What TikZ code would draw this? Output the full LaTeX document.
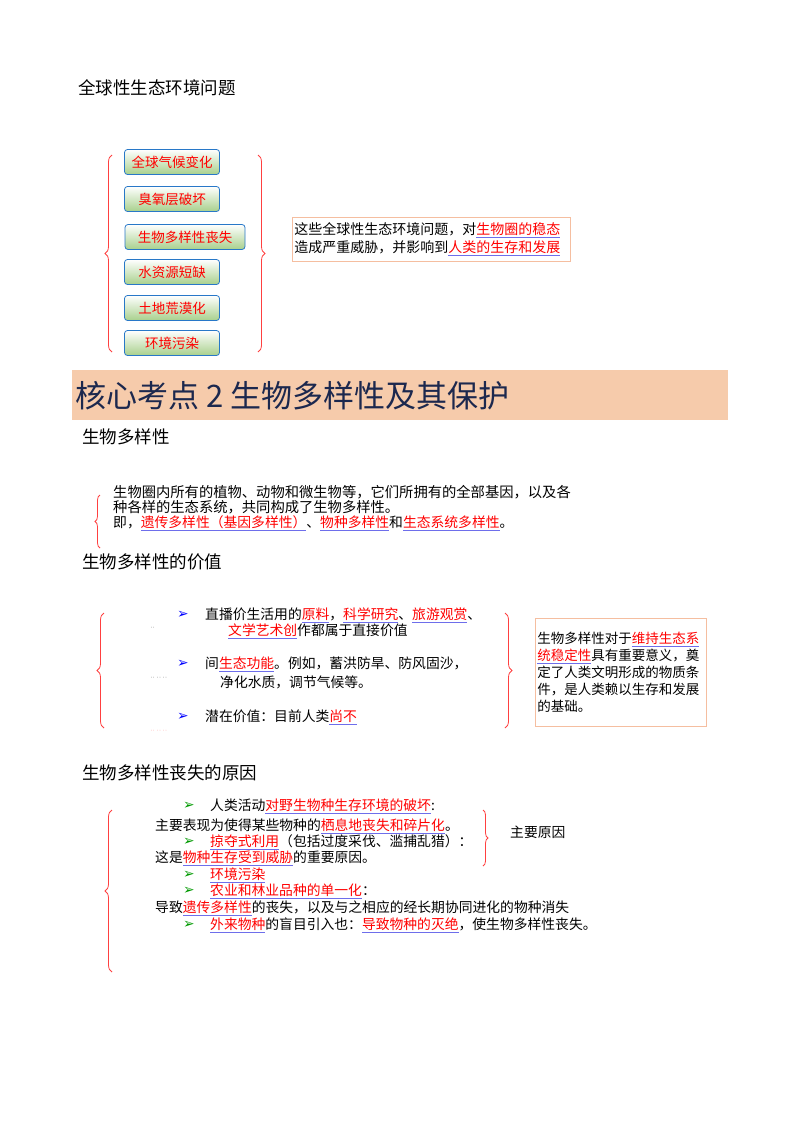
\documentclass[tikz,border=0pt]{standalone}
\usepackage{fontspec}
\setmainfont{Noto Sans CJK SC}
\newfontfamily\symfont{DejaVu Sans}
\XeTeXlinebreaklocale "zh"
\XeTeXlinebreakskip=0pt plus 1pt
\usetikzlibrary{positioning, decorations.pathreplacing}
\definecolor{bandpeach}{RGB}{246,203,171}
\definecolor{titlenavy}{RGB}{28,40,78}
\definecolor{boxline}{RGB}{40,120,200}
\definecolor{boxgreen}{RGB}{168,208,140}
\definecolor{linkblue}{RGB}{110,110,235}
\definecolor{frameorange}{RGB}{245,190,160}
\newcommand{\hl}[1]{\textcolor{linkblue}{\underline{\textcolor{red}{#1}}}}
\newcommand{\bluetip}{{\symfont\textcolor{blue}{➢}}}
\newcommand{\greentip}{{\symfont\textcolor{green!60!black}{➢}}}

\begin{document}
\begin{tikzpicture}[
    x=1pt, y=1pt,
    heading/.style={anchor=west, inner sep=0pt, font=\fontsize{17.5}{20}\selectfont},
    problem/.style={rectangle, rounded corners=3pt, draw=boxline, thick, top color=white, bottom color=boxgreen, minimum width=95pt, minimum height=25pt, text=red, font=\fontsize{13.5}{15}\selectfont},
    line/.style={anchor=west, inner sep=0pt, font=\fontsize{13.8}{16}\selectfont},
    frame/.style={draw=frameorange, thick, anchor=north west, align=left, inner sep=2pt},
    bracket/.style={draw=red!75, thick, decorate, decoration={brace, amplitude=7pt}}
]
\useasboundingbox (0,0) rectangle (800,-1132);

% Global problems
\node[heading] (globalhead) at (78,-88) {全球性生态环境问题};
\node[problem] (climate) at (172,-162) {全球气候变化};
\node[problem] (ozone) at (172,-199) {臭氧层破坏};
\node[problem, minimum width=120pt] (diversity) at (185,-237) {生物多样性丧失};
\node[problem] (water) at (172,-272) {水资源短缺};
\node[problem] (desert) at (172,-308) {土地荒漠化};
\node[problem] (pollution) at (172,-343) {环境污染};
\coordinate (lbtop) at (112,-155);
\coordinate (lbbot) at (112,-352);
\coordinate (rbtop) at (258,-155);
\coordinate (rbbot) at (258,-352);
\draw[bracket] (lbbot) -- (lbtop);
\draw[bracket] (rbtop) -- (rbbot);
\node[frame, text width=274pt, minimum height=44pt, font=\fontsize{14}{18}\selectfont] (threat) at (292,-217)
  {这些全球性生态环境问题，对\hl{生物圈的稳态}\\造成严重威胁，并影响到\hl{人类的生存和发展}};

% Core point 2
\node[fill=bandpeach, anchor=north west, minimum width=656pt, minimum height=50pt, inner sep=0pt] (band) at (72,-370) {};
\node[anchor=west, text=titlenavy, font=\fontsize{31}{34}\selectfont] (title) at (72,-396) {核心考点 2 生物多样性及其保护};

% Biodiversity
\node[heading] (bdhead) at (82,-437) {生物多样性};
\coordinate (dbtop) at (100,-495);
\coordinate (dbbot) at (100,-548);
\draw[bracket, decoration={amplitude=5pt}] (dbbot) -- (dbtop);
\node[line, font=\fontsize{14.3}{16}\selectfont] (def1) at (113,-492) {生物圈内所有的植物、动物和微生物等，它们所拥有的全部基因，以及各};
\node[line, font=\fontsize{14.3}{16}\selectfont] (def2) at (113,-507) {种各样的生态系统，共同构成了生物多样性。};
\node[line] (def3) at (113,-523) {即，\hl{遗传多样性（基因多样性）}、\hl{物种多样性}和\hl{生态系统多样性}。};

% Value
\node[heading] (valhead) at (82,-562) {生物多样性的价值};
\coordinate (vltop) at (104,-613);
\coordinate (vlbot) at (104,-728);
\coordinate (vrtop) at (505,-613);
\coordinate (vrbot) at (505,-728);
\draw[bracket] (vlbot) -- (vltop);
\draw[bracket] (vrtop) -- (vrbot);
\node[line] (tip1) at (177,-615) {\bluetip};
\node[line] (direct1) at (205,-615) {直播价生活用的\hl{原料}，\hl{科学研究}、\hl{旅游观赏}、};
\node[line] (direct2) at (228,-631) {\hl{文学艺术创}作都属于直接价值};
\node[line, font=\tiny] (dots1) at (150,-628) {‥};
\node[line] (tip2) at (177,-664) {\bluetip};
\node[line] (indirect1) at (205,-664) {间\hl{生态功能}。例如，蓄洪防旱、防风固沙，};
\node[line] (indirect2) at (220,-682) {净化水质，调节气候等。};
\node[line, font=\tiny] (dots2) at (150,-678) {‥ ‥ ‥};
\node[line] (tip3) at (177,-717) {\bluetip};
\node[line] (latent) at (205,-717) {潜在价值：目前人类\hl{尚不}};
\node[line, font=\tiny, text=red!70] (dots3) at (150,-731) {‥ ‥ ‥};
\node[frame, text width=167pt, minimum height=108pt, font=\fontsize{13.5}{17}\selectfont] (meaning) at (535,-618)
  {生物多样性对于\hl{维持生态系}\\\hl{统稳定性}具有重要意义，奠\\定了人类文明形成的物质条\\件，是人类赖以生存和发展\\的基础。};

% Loss
\node[heading] (losshead) at (82,-773) {生物多样性丧失的原因};
\coordinate (blbtop) at (112,-810);
\coordinate (blbbot) at (112,-972);
\coordinate (brbtop) at (483,-810);
\coordinate (brbbot) at (483,-866);
\draw[bracket] (blbbot) -- (blbtop);
\draw[bracket, decoration={amplitude=5pt}] (brbtop) -- (brbbot);
\node[line] (mainreason) at (510,-832) {主要原因};
\node[line] (gt1) at (183,-806) {\greentip};
\node[line] (habitat1) at (210,-806) {人类活动\hl{对野生物种生存环境的破坏}:};
\node[line] (habitat2) at (155,-826) {主要表现为使得某些物种的\hl{栖息地丧失和碎片化}。};
\node[line] (gt2) at (183,-842) {\greentip};
\node[line] (plunder1) at (210,-842) {\hl{掠夺式利用}（包括过度采伐、滥捕乱猎）：};
\node[line] (plunder2) at (155,-858) {这是\hl{物种生存受到威胁}的重要原因。};
\node[line] (gt3) at (183,-875) {\greentip};
\node[line] (envpoll) at (210,-875) {\hl{环境污染}};
\node[line] (gt4) at (183,-891) {\greentip};
\node[line] (mono1) at (210,-891) {\hl{农业和林业品种的单一化}：};
\node[line] (mono2) at (155,-908) {导致\hl{遗传多样性}的丧失，以及与之相应的经长期协同进化的物种消失};
\node[line] (gt5) at (183,-925) {\greentip};
\node[line] (alien) at (210,-925) {\hl{外来物种}的盲目引入也：\hl{导致物种的灭绝}，使生物多样性丧失。};
\end{tikzpicture}
\end{document}
